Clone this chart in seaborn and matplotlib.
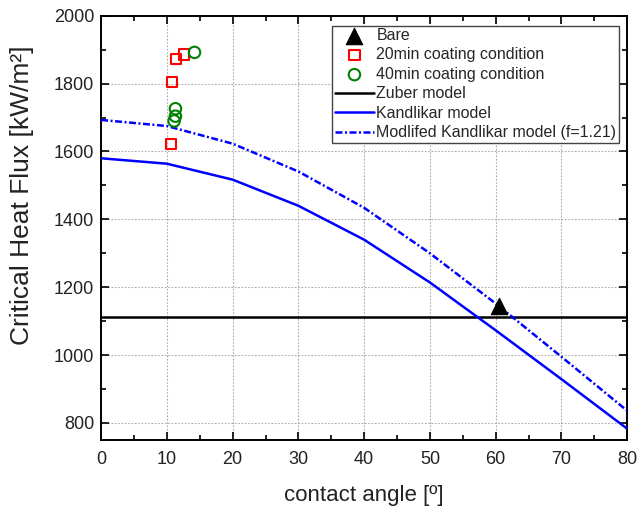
# CHF vs contact angle: measured points against Zuber / Kandlikar models

import matplotlib
import matplotlib.pyplot as plt
import seaborn as sns
from matplotlib.ticker import MultipleLocator

matplotlib.use("Agg")

# --- data ---
bare_angle = [60.5]
bare_chf = [1145]

coat20_angle = [10.6, 10.8, 11.4, 12.6]
coat20_chf = [1623, 1804, 1872, 1886]

coat40_angle = [14.2, 11.3, 11.3, 11.1]
coat40_chf = [1892, 1726, 1704, 1690]

zuber_chf = 1111

model_angle = [0, 10, 20, 30, 40, 50, 60, 70, 80]
kandlikar_chf = [1580, 1564, 1517, 1440, 1340, 1214, 1073, 929, 783]
modified_chf = [1693, 1675, 1623, 1541, 1434, 1300, 1152, 995, 836]

sns.set_style("ticks")
plt.rcParams["font.family"] = ["Liberation Sans", "DejaVu Sans"]

fig = plt.figure(figsize=(6.4, 5.08), dpi=100)
ax = fig.add_axes([0.158, 0.134, 0.822, 0.835])

sns.scatterplot(x=bare_angle, y=bare_chf, marker="^", s=140, color="black",
                edgecolor="black", linewidth=0.8, label="Bare", ax=ax, zorder=5)
sns.scatterplot(x=coat20_angle, y=coat20_chf, marker="s", s=55,
                facecolor="none", edgecolor="#ff0000", linewidth=1.5,
                label="20min coating condition", ax=ax, zorder=5)
sns.scatterplot(x=coat40_angle, y=coat40_chf, marker="o", s=68,
                facecolor="none", edgecolor="#008000", linewidth=1.5,
                label="40min coating condition", ax=ax, zorder=5)

ax.axhline(zuber_chf, color="black", lw=1.8, label="Zuber model", zorder=3)
sns.lineplot(x=model_angle, y=kandlikar_chf, color="#0000ff", lw=1.8,
             label="Kandlikar model", ax=ax, zorder=3)
sns.lineplot(x=model_angle, y=modified_chf, color="#0000ff", lw=1.8,
             dashes=False, label="Modlifed Kandlikar model (f=1.21)",
             ax=ax, zorder=3)
ax.lines[-1].set_dashes((2.8, 1.0, 0.8, 1.0))

ax.set_xlim(0, 80)
ax.set_ylim(750, 2000)
ax.xaxis.set_major_locator(MultipleLocator(10))
ax.xaxis.set_minor_locator(MultipleLocator(5))
ax.yaxis.set_major_locator(MultipleLocator(200))
ax.yaxis.set_minor_locator(MultipleLocator(100))
ax.set_yticks(range(800, 2001, 200))

ax.tick_params(which="both", direction="in", top=True, right=True,
               labelsize=13, color="black", labelcolor="#222222")
ax.tick_params(which="major", length=6, width=1.2)
ax.tick_params(which="minor", length=3.5, width=1.2)
ax.tick_params(axis="x", which="major", pad=8)
ax.tick_params(axis="y", which="major", pad=5)
for sp in ax.spines.values():
    sp.set_linewidth(1.4)
    sp.set_color("black")

ax.grid(True, which="major", color="#aaaaaa", lw=0.8, ls=(0, (1.5, 1.5)))
ax.set_axisbelow(True)

ax.set_xlabel("contact angle [º]", fontsize=16, labelpad=12, color="#222222")
ax.set_ylabel("Critical Heat Flux [kW/m²]", fontsize=19, color="#222222")
ax.yaxis.set_label_coords(-0.128, 0.577)

leg = ax.legend(loc="upper right", bbox_to_anchor=(0.984, 0.977),
                fontsize=11.5, frameon=True, fancybox=False,
                edgecolor="#444444", framealpha=1, labelspacing=0.28,
                handlelength=2.45, handletextpad=0.15, borderpad=0.15,
                borderaxespad=0.0)
leg.get_frame().set_linewidth(1.0)

fig.savefig("out.png", dpi=100)
